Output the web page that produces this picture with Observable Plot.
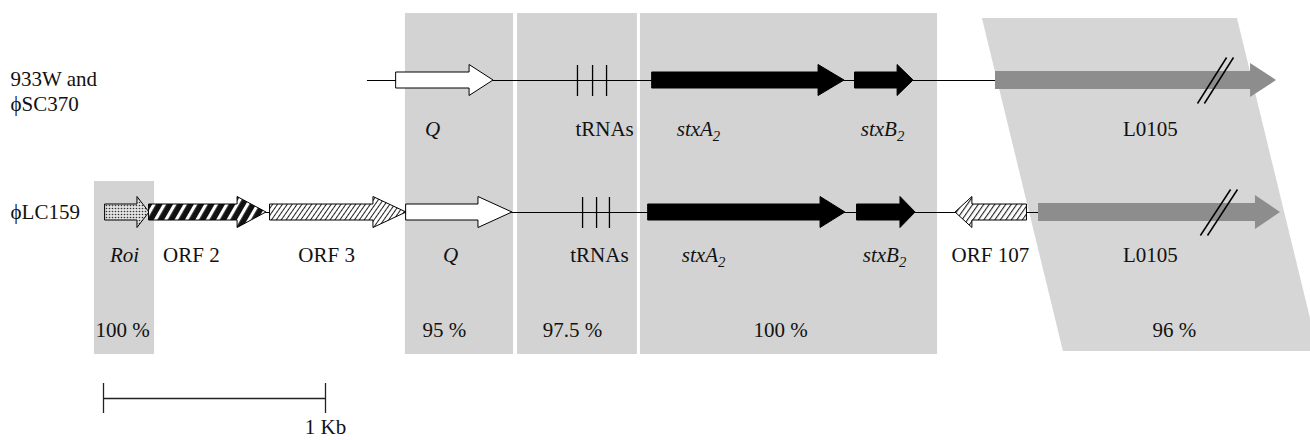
<!DOCTYPE html>
<html><head><meta charset="utf-8">
<script src="https://cdn.jsdelivr.net/npm/d3@7"></script>
<script src="https://cdn.jsdelivr.net/npm/@observablehq/plot@0.6"></script>
<style>body{margin:0;background:#fff}</style>
</head><body><div id="chart"></div>
<script>
// ---------- data (positions in kb, measured from the 1 Kb scale bar origin) ----------
const rowNames = ["933W and", "ϕSC370", "ϕLC159"];

// homology blocks between the two maps
const blockNames    = ["Roi", "Q", "tRNAs", "stx"];
const blockStart    = [-0.041, 1.360, 1.865, 2.419];
const blockEnd      = [0.230, 1.847, 2.405, 3.757];
const blockIdentity = ["100 %", "95 %", "97.5 %", "100 %"];
const blockIdentityX = [0.086, 1.536, 2.113, 3.050];
// slanted L0105 block (top edge and bottom edge)
const l0105TopEdge = [3.959, 5.108];
const l0105BottomEdge = [4.324, 5.473];
const l0105Identity = "96 %";
const l0105IdentityX = 4.824;

// genes: name, start, head start, tip (kb), style
const topGenes = [
  {name: "Q",     start: 1.320, head: 1.649, tip: 1.757, style: "open"},
  {name: "stxA2", start: 2.473, head: 3.221, tip: 3.338, style: "solid"},
  {name: "stxB2", start: 3.387, head: 3.577, tip: 3.649, style: "solid"},
  {name: "L0105", start: 4.018, head: 5.167, tip: 5.284, style: "grey"}
];
const bottomGenes = [
  {name: "Roi",     start: 0.009, head: 0.153, tip: 0.207, style: "dots"},
  {name: "ORF 2",   start: 0.207, head: 0.604, tip: 0.734, style: "stripes"},
  {name: "ORF 3",   start: 0.752, head: 1.216, tip: 1.365, style: "hatch"},
  {name: "Q",       start: 1.365, head: 1.689, tip: 1.842, style: "open"},
  {name: "stxA2",   start: 2.455, head: 3.230, tip: 3.342, style: "solid"},
  {name: "stxB2",   start: 3.396, head: 3.590, tip: 3.658, style: "solid"},
  {name: "ORF 107", start: 4.158, head: 3.914, tip: 3.838, style: "hatch2"},
  {name: "L0105",   start: 4.212, head: 5.189, tip: 5.302, style: "grey"}
];
const topBackbone = [1.189, 4.018];
const bottomBackbone = [0.207, 4.212];
const topTrnaTicks = [2.135, 2.203, 2.266];
const bottomTrnaTicks = [2.158, 2.221, 2.279];
// "//" break marks on L0105 (x at lower end, x at upper end)
const topBreaks = [[4.928, 5.059], [4.959, 5.090]];
const bottomBreaks = [[4.941, 5.077], [4.973, 5.108]];

// gene labels (x = label centre, kb)
const topLabels = [
  {label: "Q", x: 1.482, italic: true},
  {label: "tRNAs", x: 2.257, italic: false},
  {label: "stxA2", x: 2.680, italic: true},
  {label: "stxB2", x: 3.509, italic: true},
  {label: "L0105", x: 4.716, italic: false}
];
const bottomLabels = [
  {label: "Roi", x: 0.095, italic: true},
  {label: "ORF 2", x: 0.396, italic: false},
  {label: "ORF 3", x: 1.005, italic: false},
  {label: "Q", x: 1.563, italic: true},
  {label: "tRNAs", x: 2.234, italic: false},
  {label: "stxA2", x: 2.703, italic: true},
  {label: "stxB2", x: 3.518, italic: true},
  {label: "ORF 107", x: 3.995, italic: false},
  {label: "L0105", x: 4.716, italic: false}
];
const scaleBar = [0, 1];
const scaleLabel = "1 Kb";

// ---------- layout ----------
const W = 1310, H = 440;
const pxPerKb = 222, originPx = 103;
const rowTop = 80, rowBottom = 212;
const topLabelY = 129, bottomLabelY = 255, identityY = 330;
const boxTop = 13, boxBottom = 354, roiBoxTop = 181;
const l0105Top = 18, l0105Bottom = 351;
const FONT = "Liberation Serif";
const FS = 21;
const fills = {
  open: "white", solid: "black", grey: "#8d8d8d",
  dots: "url(#pDots)", stripes: "url(#pStripes)", hatch: "url(#pHatch)", hatch2: "url(#pHatch2)"
};
const half = {grey: [9, 17]};

function arrow(g, c) {
  const [h, Hh] = half[g.style] || [8, 15.5];
  return [
    {x: g.start, y1: c - h, y2: c + h},
    {x: g.head, y1: c - h, y2: c + h},
    {x: g.head, y1: c - Hh, y2: c + Hh},
    {x: g.tip, y1: c, y2: c}
  ];
}
function geneMarks(genes, c) {
  return genes.map(g => Plot.areaY(arrow(g, c), {
    x: "x", y1: "y1", y2: "y2", curve: "linear",
    fill: fills[g.style],
    stroke: g.style === "grey" ? "none" : "black",
    strokeWidth: 1
  }));
}

const blocks = blockNames.map((n, i) => ({
  name: n, x1: blockStart[i], x2: blockEnd[i], y1: n === "Roi" ? roiBoxTop : boxTop, y2: boxBottom
}));
const l0105Block = [
  {y: l0105Top, x1: l0105TopEdge[0], x2: l0105TopEdge[1]},
  {y: l0105Bottom, x1: l0105BottomEdge[0], x2: l0105BottomEdge[1]}
];
const identities = blockIdentity.map((t, i) => ({label: t, x: blockIdentityX[i]}))
  .concat([{label: l0105Identity, x: l0105IdentityX}]);
const leftX = (10 - originPx) / pxPerKb;
const rowLabels = [
  {label: rowNames[0], y: 79}, {label: rowNames[1], y: 104}, {label: rowNames[2], y: rowBottom}
];
const breaks = topBreaks.map(b => ({x1: b[0], x2: b[1], y1: rowTop + 23, y2: rowTop - 23}))
  .concat(bottomBreaks.map(b => ({x1: b[0], x2: b[1], y1: rowBottom + 23, y2: rowBottom - 23})));

function labelMarks(labels, y) {
  return [
    Plot.text(labels.filter(d => d.italic), {x: "x", y: () => y, text: "label", fontSize: FS, fontStyle: "italic", fill: "#111"}),
    Plot.text(labels.filter(d => !d.italic), {x: "x", y: () => y, text: "label", fontSize: FS, fill: "#111"})
  ];
}

const svg = Plot.plot({
  width: W, height: H, margin: 0,
  style: {fontFamily: FONT, background: "white", overflow: "hidden"},
  x: {domain: [-originPx / pxPerKb, (W - originPx) / pxPerKb], range: [0, W]},
  y: {domain: [0, H], range: [0, H]},
  axis: null,
  marks: [
    Plot.rect(blocks, {x1: "x1", x2: "x2", y1: "y1", y2: "y2", fill: "#d3d3d3"}),
    Plot.areaX(l0105Block, {y: "y", x1: "x1", x2: "x2", fill: "#d6d6d6", curve: "linear"}),
    // backbones
    Plot.ruleY([rowTop], {x1: topBackbone[0], x2: topBackbone[1], stroke: "black", strokeWidth: 1.2}),
    Plot.ruleY([rowBottom], {x1: bottomBackbone[0], x2: bottomBackbone[1], stroke: "black", strokeWidth: 1.2}),
    // tRNA ticks
    Plot.ruleX(topTrnaTicks, {y1: rowTop - 15, y2: rowTop + 16, stroke: "black", strokeWidth: 1.3}),
    Plot.ruleX(bottomTrnaTicks, {y1: rowBottom - 15, y2: rowBottom + 16, stroke: "black", strokeWidth: 1.3}),
    ...geneMarks(topGenes, rowTop),
    ...geneMarks(bottomGenes, rowBottom),
    Plot.link(breaks, {x1: "x1", x2: "x2", y1: "y1", y2: "y2", stroke: "black", strokeWidth: 1.5}),
    ...labelMarks(topLabels, topLabelY),
    ...labelMarks(bottomLabels, bottomLabelY),
    Plot.text(identities, {x: "x", y: () => identityY, text: "label", fontSize: FS, fill: "#111"}),
    Plot.text(rowLabels, {x: () => leftX, y: "y", text: "label", textAnchor: "start", fontSize: FS, fill: "#111"}),
    // scale bar
    Plot.ruleY([398], {x1: scaleBar[0], x2: scaleBar[1], stroke: "#222", strokeWidth: 1.3}),
    Plot.ruleX(scaleBar, {y1: 383, y2: 413, stroke: "#222", strokeWidth: 1.3}),
    Plot.text([scaleLabel], {x: scaleBar[1], y: () => 427, text: d => d, fontSize: FS, fill: "#111"})
  ]
});

// patterns for hatched / dotted genes
const defs = d3.select(svg).insert("defs", ":first-child");
const pd = defs.append("pattern").attr("id", "pDots").attr("width", 3).attr("height", 3).attr("patternUnits", "userSpaceOnUse");
pd.append("rect").attr("width", 3).attr("height", 3).attr("fill", "#e2e2e2");
pd.append("circle").attr("cx", 1.5).attr("cy", 1.5).attr("r", 0.8).attr("fill", "#333");
const ps = defs.append("pattern").attr("id", "pStripes").attr("width", 9).attr("height", 9)
  .attr("patternUnits", "userSpaceOnUse").attr("patternTransform", "rotate(30)");
ps.append("rect").attr("width", 9).attr("height", 9).attr("fill", "#111");
ps.append("rect").attr("width", 3.2).attr("height", 9).attr("fill", "#fff");
const ph = defs.append("pattern").attr("id", "pHatch").attr("width", 4).attr("height", 4)
  .attr("patternUnits", "userSpaceOnUse").attr("patternTransform", "rotate(35)");
ph.append("rect").attr("width", 4).attr("height", 4).attr("fill", "#fff");
ph.append("rect").attr("width", 1).attr("height", 4).attr("fill", "#222");
const ph2 = defs.append("pattern").attr("id", "pHatch2").attr("width", 4.5).attr("height", 4.5)
  .attr("patternUnits", "userSpaceOnUse").attr("patternTransform", "rotate(35)");
ph2.append("rect").attr("width", 4.5).attr("height", 4.5).attr("fill", "#fff");
ph2.append("rect").attr("width", 1.1).attr("height", 4.5).attr("fill", "#222");

// subscripts for stxA2 / stxB2
d3.select(svg).selectAll("text").each(function () {
  const t = d3.select(this);
  const s = t.text();
  if (/^stx[AB]2$/.test(s)) {
    t.text(s.slice(0, -1));
    t.append("tspan").attr("dy", "0.3em").attr("font-size", "70%").text("2");
  }
});

document.getElementById("chart").appendChild(svg);
</script>
</body></html>
